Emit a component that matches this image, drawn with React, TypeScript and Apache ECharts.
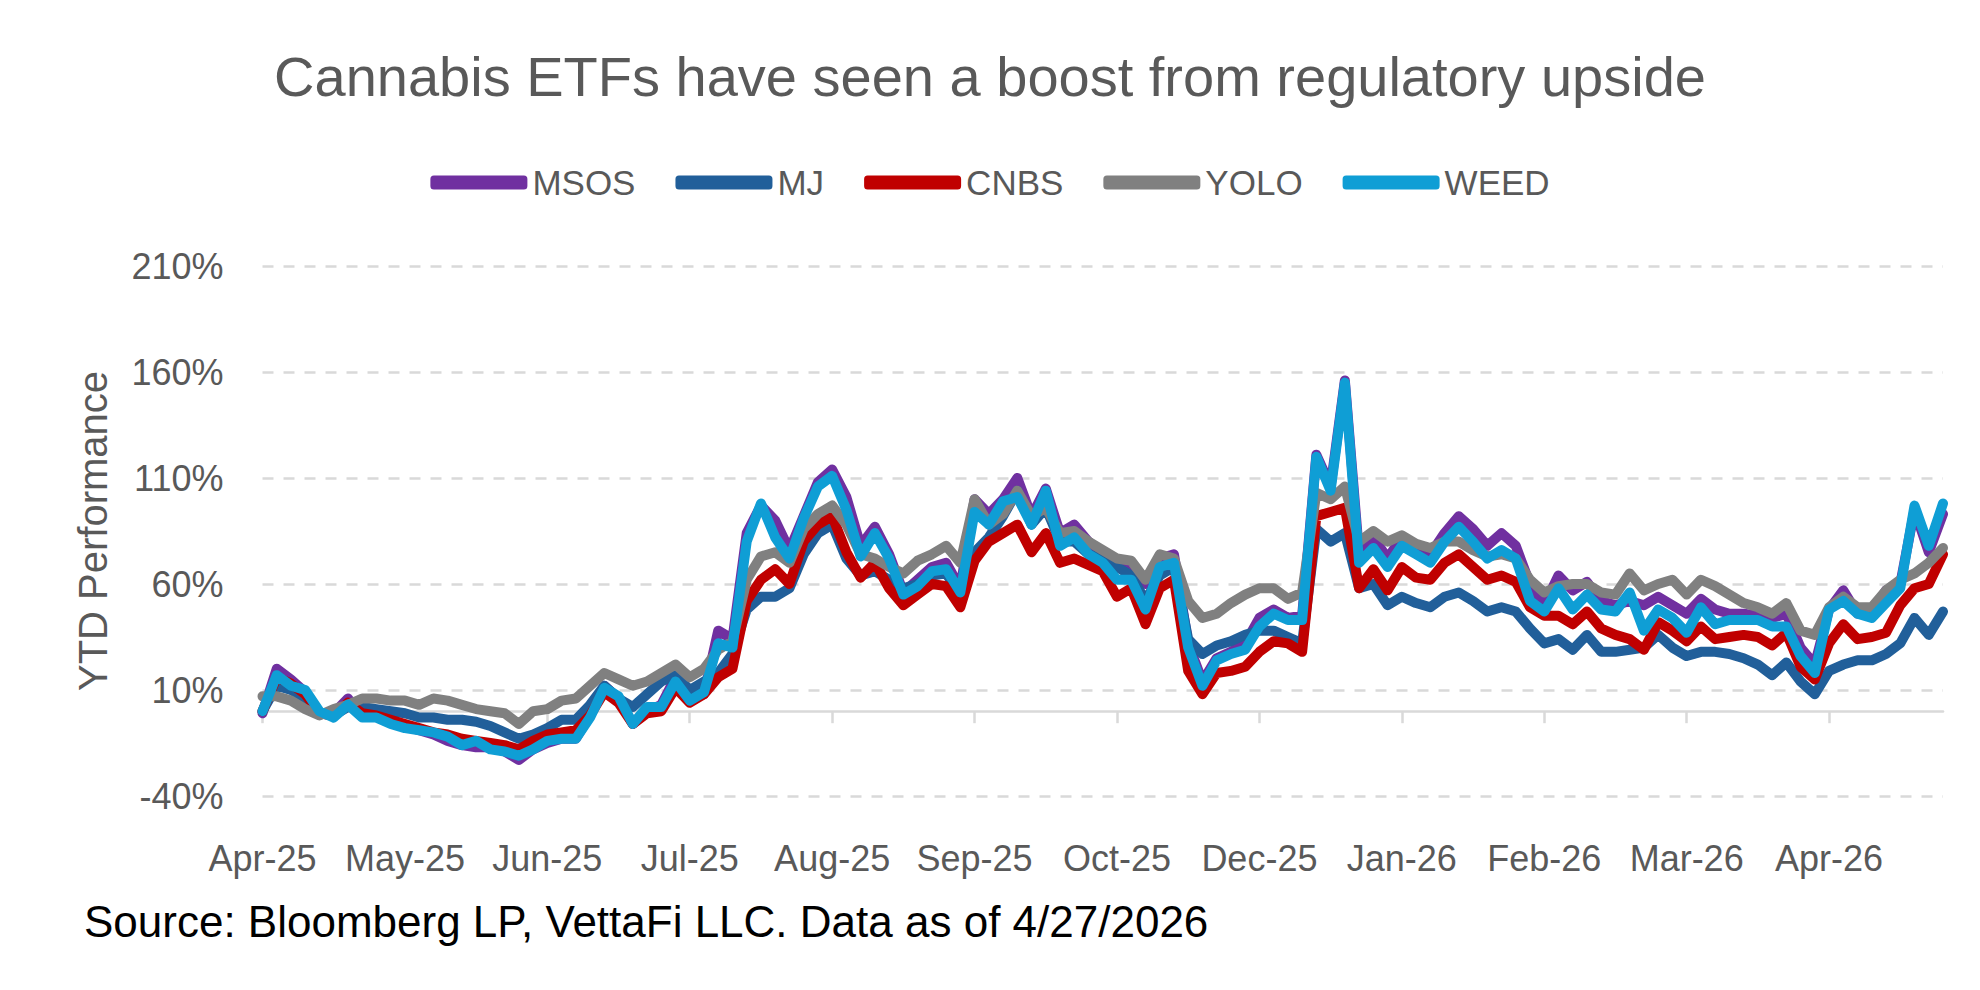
import React, { useEffect, useRef } from 'react';
import * as echarts from 'echarts';

// One x-axis label every SAMPLES_PER_LABEL samples (roughly one sample per two trading days).
const monthLabels = ['Apr-25', 'May-25', 'Jun-25', 'Jul-25', 'Aug-25', 'Sep-25', 'Oct-25', 'Dec-25', 'Jan-26', 'Feb-26', 'Mar-26', 'Apr-26'];
const SAMPLES_PER_LABEL = 10;

const seriesNames = ['MSOS', 'MJ', 'CNBS', 'YOLO', 'WEED'];
const seriesColors = ['#7030A0', '#215F9A', '#C00000', '#808080', '#0F9ED5'];

// YTD performance, %
const msos = [
  -1, 20, 15, 9, -1, -1, 6, -2, -2, -4, -7, -9, -11, -14, -16, -17, -17, -19, -23, -18, -15, -13, -13, -2,
  12, 6, -6, 0, 3, 16, 6, 8, 38, 34, 84, 97, 90, 76, 92, 108, 114, 101, 78, 87, 74, 56, 62, 68,
  70, 58, 100, 93, 100, 110, 92, 105, 84, 88, 80, 74, 70, 68, 60, 72, 74, 32, 14, 25, 28, 32, 44, 48,
  44, 45, 121, 106, 156, 74, 82, 72, 82, 78, 74, 84, 92, 86, 78, 84, 78, 60, 50, 64, 57, 61, 52,
  50, 52, 50, 54, 50, 46, 53, 48, 46, 46, 45, 44, 46, 30, 22, 48, 57, 46, 47, 57, 60, 95, 75, 93,
];
const mj = [
  0, 12, 10, 6, -1, -2, 2, 2, 1, 0, -1, -3, -3, -4, -4, -5, -7, -10, -13, -11, -8, -4, -4, 3,
  12, 6, 2, 8, 14, 17, 10, 14, 18, 27, 48, 54, 54, 58, 74, 84, 88, 72, 64, 66, 62, 58, 60, 64,
  65, 55, 75, 82, 92, 104, 88, 96, 80, 80, 74, 72, 68, 64, 52, 64, 68, 34, 27, 31, 33, 36, 38, 38,
  35, 32, 86, 80, 84, 58, 60, 50, 54, 51, 49, 54, 56, 52, 47, 49, 47, 39, 32, 34, 29, 36, 28,
  28, 29, 30, 36, 30, 26, 28, 28, 27, 25, 22, 17, 23, 14, 8, 19, 22, 24, 24, 27, 32, 44, 36, 47,
];
const cnbs = [
  0, 16, 13, 8, -1, -2, 4, -1, -2, -4, -6, -8, -10, -11, -13, -14, -15, -16, -18, -14, -11, -10, -9, -2,
  9, 4, -6, -1, 0, 11, 4, 8, 16, 20, 52, 62, 67, 60, 80, 88, 92, 75, 63, 70, 58, 50, 55, 60,
  59, 49, 71, 80, 84, 88, 75, 84, 70, 72, 69, 66, 54, 58, 41, 58, 62, 19, 8, 18, 19, 21, 28, 33,
  32, 28, 92, 94, 96, 58, 67, 57, 68, 63, 62, 70, 74, 68, 62, 64, 61, 49, 45, 45, 41, 47, 39,
  36, 34, 29, 42, 38, 33, 40, 34, 35, 36, 35, 31, 37, 21, 15, 32, 41, 34, 35, 37, 50, 58, 60, 74,
];
const yolo = [
  7, 7, 5, 1, -2, 1, 3, 6, 6, 5, 5, 3, 6, 5, 3, 1, 0, -1, -6, 0, 1, 5, 6, 12,
  18, 15, 12, 14, 18, 22, 16, 20, 29, 33, 62, 73, 75, 70, 86, 93, 97, 88, 74, 72, 68, 65, 71, 74,
  78, 70, 100, 88, 93, 104, 92, 96, 84, 85, 80, 76, 72, 71, 62, 74, 72, 52, 44, 46, 51, 55, 58, 58,
  53, 56, 103, 100, 106, 80, 85, 80, 83, 79, 77, 80, 80, 76, 73, 74, 72, 62, 56, 59, 60, 60, 56,
  55, 65, 57, 60, 62, 55, 62, 59, 55, 51, 49, 46, 51, 38, 36, 49, 54, 49, 49, 57, 62, 65, 70, 77,
];
const weed = [
  0, 17, 12, 10, 0, -3, 3, -3, -3, -6, -8, -9, -10, -12, -16, -14, -18, -19, -21, -18, -14, -13, -13, -3,
  11, 7, -6, 2, 2, 14, 5, 9, 32, 30, 80, 98, 82, 72, 91, 106, 111, 95, 73, 84, 72, 55, 59, 66,
  67, 56, 94, 88, 99, 101, 88, 104, 78, 82, 74, 70, 62, 62, 48, 68, 70, 30, 12, 24, 27, 29, 40, 46,
  43, 43, 120, 104, 155, 70, 77, 68, 78, 74, 70, 80, 87, 80, 72, 76, 72, 52, 47, 58, 48, 55, 48,
  47, 56, 38, 48, 44, 37, 49, 41, 43, 43, 43, 40, 40, 26, 18, 48, 52, 46, 44, 51, 58, 97, 78, 98,
];

const seriesData = [msos, mj, cnbs, yolo, weed];
const sampleIndex = msos.map((_, i) => String(i));

const FONT = "'Liberation Sans', Arial, sans-serif";
const TEXT_GREY = '#595959';
const RULE_GREY = '#D9D9D9';

export default function App() {
  const ref = useRef<HTMLDivElement>(null);

  useEffect(() => {
    if (!ref.current) return;
    const chart = echarts.init(ref.current, undefined, { renderer: 'svg' });

    const series = seriesNames.map((name, k) => ({
      name,
      type: 'line' as const,
      data: seriesData[k],
      xAxisIndex: 0,
      yAxisIndex: 0,
      showSymbol: false,
      symbol: 'none',
      lineStyle: { width: 10, color: seriesColors[k], join: 'round', cap: 'round' },
      itemStyle: { color: seriesColors[k] },
      emphasis: { disabled: true },
    }));

    chart.setOption({
      animation: false,
      backgroundColor: '#ffffff',
      textStyle: { fontFamily: FONT },
      title: [
        {
          text: 'Cannabis ETFs have seen a boost from regulatory upside',
          left: 'center',
          top: 43,
          textStyle: { fontSize: 56, fontWeight: 'normal', color: TEXT_GREY, fontFamily: FONT },
        },
        {
          text: 'Source: Bloomberg LP, VettaFi LLC. Data as of 4/27/2026',
          left: 79,
          top: 894,
          textStyle: { fontSize: 44, fontWeight: 'normal', color: '#000000', fontFamily: FONT },
        },
      ],
      legend: {
        data: seriesNames,
        top: 160,
        left: 'center',
        icon: 'roundRect',
        itemWidth: 97,
        itemHeight: 14,
        itemGap: 40,
        textStyle: { fontSize: 35, color: TEXT_GREY, fontFamily: FONT },
      },
      grid: { left: 262.5, right: 37, top: 266, bottom: 194, containLabel: false },
      xAxis: [
        {
          type: 'category',
          data: sampleIndex,
          boundaryGap: false,
          axisLine: { onZero: true, lineStyle: { color: RULE_GREY, width: 2.5 } },
          axisTick: { show: true, interval: SAMPLES_PER_LABEL - 1, length: 12, lineStyle: { color: RULE_GREY, width: 2.5 } },
          axisLabel: { show: false },
          splitLine: { show: false },
        },
        {
          type: 'category',
          data: sampleIndex,
          boundaryGap: false,
          position: 'bottom',
          axisLine: { show: false, onZero: false },
          axisTick: { show: false },
          axisLabel: {
            interval: SAMPLES_PER_LABEL - 1,
            margin: 44,
            fontSize: 36,
            color: TEXT_GREY,
            fontFamily: FONT,
            formatter: (_v: string, idx: number) => monthLabels[idx / SAMPLES_PER_LABEL] ?? '',
          },
          splitLine: { show: false },
        },
      ],
      yAxis: {
        type: 'value',
        min: -40,
        max: 210,
        interval: 50,
        axisLine: { show: false },
        axisTick: { show: false },
        axisLabel: { formatter: '{value}%', fontSize: 36, color: TEXT_GREY, margin: 39, fontFamily: FONT },
        splitLine: { show: true, lineStyle: { color: RULE_GREY, width: 2.5, type: [11, 10] } },
        name: 'YTD Performance',
        nameLocation: 'middle',
        nameGap: 150,
        nameTextStyle: { fontSize: 40, color: TEXT_GREY, fontFamily: FONT },
      },
      series,
    });

    return () => chart.dispose();
  }, []);

  return (
    <div
      ref={ref}
      style={{ position: 'fixed', left: 0, top: 0, width: 1980, height: 990, background: '#ffffff' }}
    />
  );
}
